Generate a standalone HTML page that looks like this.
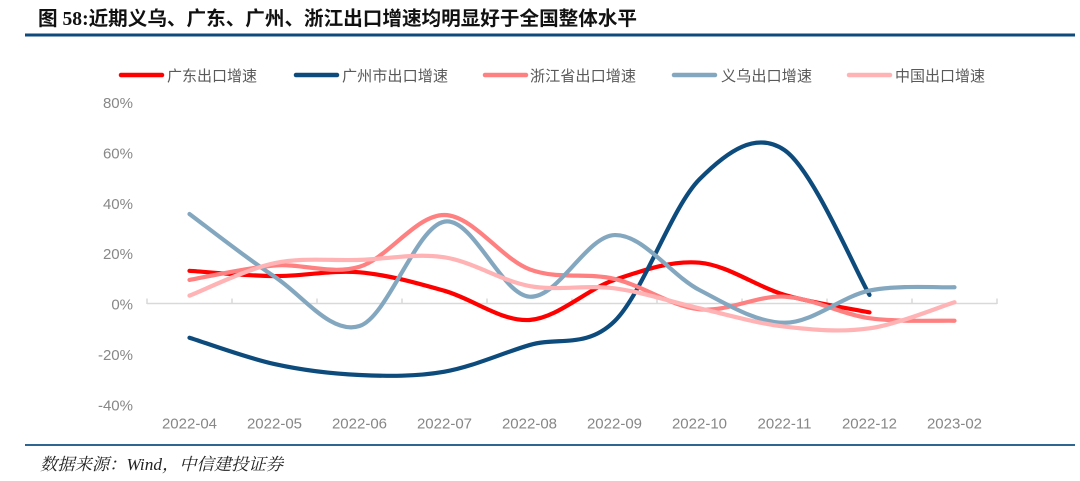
<!DOCTYPE html>
<html><head><meta charset="utf-8">
<style>
html,body{margin:0;padding:0;background:#fff;width:1080px;height:481px;overflow:hidden}
svg{display:block}
.ax{font-family:"Liberation Sans","Noto Sans CJK SC",sans-serif;font-size:15px;fill:#878787}
.lg{font-family:"Liberation Sans","Noto Sans CJK SC",sans-serif;font-size:15px;fill:#595959}
</style></head>
<body>
<svg id="c" width="1080" height="481" viewBox="0 0 1080 481" xmlns="http://www.w3.org/2000/svg">
<rect width="1080" height="481" fill="#fff"/>
<text x="38" y="25" textLength="599" lengthAdjust="spacingAndGlyphs" style="font-family:'Liberation Serif','Noto Sans CJK SC',serif;font-weight:bold;font-size:19.5px;fill:#111">图 58:近期义乌、广东、广州、浙江出口增速均明显好于全国整体水平</text>
<rect x="25" y="33.5" width="1050" height="3" fill="#0f4a7c"/>

<g id="legend">
<line x1="121" y1="75" x2="162" y2="75" stroke="#ff0000" stroke-width="4.5" stroke-linecap="round"/>
<text class="lg" x="167" y="81" textLength="90" lengthAdjust="spacingAndGlyphs">广东出口增速</text>
<line x1="296" y1="75" x2="337" y2="75" stroke="#0d4b7c" stroke-width="4.5" stroke-linecap="round"/>
<text class="lg" x="342" y="81" textLength="106" lengthAdjust="spacingAndGlyphs">广州市出口增速</text>
<line x1="485" y1="75" x2="526" y2="75" stroke="#ff8080" stroke-width="4.5" stroke-linecap="round"/>
<text class="lg" x="530" y="81" textLength="106" lengthAdjust="spacingAndGlyphs">浙江省出口增速</text>
<line x1="674" y1="75" x2="715" y2="75" stroke="#84a7c0" stroke-width="4.5" stroke-linecap="round"/>
<text class="lg" x="721" y="81" textLength="91" lengthAdjust="spacingAndGlyphs">义乌出口增速</text>
<line x1="849" y1="75" x2="890" y2="75" stroke="#ffb3b5" stroke-width="4.5" stroke-linecap="round"/>
<text class="lg" x="895" y="81" textLength="90" lengthAdjust="spacingAndGlyphs">中国出口增速</text>
</g>

<g class="ax" text-anchor="end">
<text x="133" y="108">80%</text>
<text x="133" y="158.4">60%</text>
<text x="133" y="208.8">40%</text>
<text x="133" y="259.2">20%</text>
<text x="133" y="309.6">0%</text>
<text x="133" y="360">-20%</text>
<text x="133" y="410.4">-40%</text>
</g>

<g stroke="#d9d9d9" stroke-width="1.5">
<line x1="147" y1="303.5" x2="997" y2="303.5"/>
<line x1="147" y1="298.5" x2="147" y2="304"/>
<line x1="232" y1="298.5" x2="232" y2="304"/>
<line x1="317" y1="298.5" x2="317" y2="304"/>
<line x1="402" y1="298.5" x2="402" y2="304"/>
<line x1="487" y1="298.5" x2="487" y2="304"/>
<line x1="572" y1="298.5" x2="572" y2="304"/>
<line x1="657" y1="298.5" x2="657" y2="304"/>
<line x1="742" y1="298.5" x2="742" y2="304"/>
<line x1="827" y1="298.5" x2="827" y2="304"/>
<line x1="912" y1="298.5" x2="912" y2="304"/>
<line x1="997" y1="298.5" x2="997" y2="304"/>
</g>

<g class="ax" text-anchor="middle">
<text x="189.5" y="428.5">2022-04</text>
<text x="274.5" y="428.5">2022-05</text>
<text x="359.5" y="428.5">2022-06</text>
<text x="444.5" y="428.5">2022-07</text>
<text x="529.5" y="428.5">2022-08</text>
<text x="614.5" y="428.5">2022-09</text>
<text x="699.5" y="428.5">2022-10</text>
<text x="784.5" y="428.5">2022-11</text>
<text x="869.5" y="428.5">2022-12</text>
<text x="954.5" y="428.5">2023-02</text>
</g>

<g fill="none" stroke-width="4.2" stroke-linecap="round" stroke-linejoin="round">
<path id="s0" stroke="#ff0000"/>
<path id="s1" stroke="#0d4b7c"/>
<path id="s2" stroke="#ff8080"/>
<path id="s3" stroke="#84a7c0"/>
<path id="s4" stroke="#ffb3b5"/>
</g>

<rect x="25" y="444" width="1050" height="2" fill="#2e6591"/>
<text x="40" y="470" textLength="243" lengthAdjust="spacingAndGlyphs" style="font-family:'Liberation Serif','Noto Serif CJK SC',serif;font-style:italic;font-size:17px;fill:#222">数据来源：Wind，中信建投证券</text>
</svg>
<script>
(function(){
var data=[
[12.9,10.8,12.3,5.0,-6.5,9.3,16.1,3.4,-3.5],
[-13.5,-23.9,-28.2,-26.9,-16.4,-7,49,60.5,3.4],
[9.3,15,14.5,34.9,13.5,9.7,-2.3,2.7,-5.8,-6.8],
[35.3,10.6,-8.9,32.3,2.7,27,5.3,-7.6,5.1,6.4],
[3.1,15.9,17.2,18.2,6.9,6,-1.9,-9.1,-9.8,0.5]
];
function X(i){return 189.5+85*i;}
function Y(v){return 303.5-v*2.535;}
for(var s=0;s<data.length;s++){
  var d=data[s],p=[];
  for(var i=0;i<d.length;i++)p.push([X(i),Y(d[i])]);
  var str="M"+p[0][0].toFixed(2)+","+p[0][1].toFixed(2);
  for(var i=0;i<p.length-1;i++){
    var p0=p[i>0?i-1:i],p1=p[i],p2=p[i+1],p3=p[i+2<p.length?i+2:i+1];
    var c1x=p1[0]+(p2[0]-p0[0])/6,c1y=p1[1]+(p2[1]-p0[1])/6;
    var c2x=p2[0]-(p3[0]-p1[0])/6,c2y=p2[1]-(p3[1]-p1[1])/6;
    str+=" C"+c1x.toFixed(2)+","+c1y.toFixed(2)+" "+c2x.toFixed(2)+","+c2y.toFixed(2)+" "+p2[0].toFixed(2)+","+p2[1].toFixed(2);
  }
  document.getElementById("s"+s).setAttribute("d",str);
}
})();
</script>
</body></html>
